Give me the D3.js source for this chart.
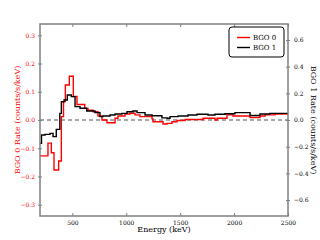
<!DOCTYPE html>
<html>
<head>
<meta charset="utf-8">
<script src="https://cdn.jsdelivr.net/npm/d3@7"></script>
<style>
  html, body { margin: 0; padding: 0; background: #fff; }
  svg { display: block; font-family: "DejaVu Serif", serif; }
</style>
</head>
<body>
<div id="chart"></div>
<script>
// BGO 0 (left axis) step histogram: bin edges in keV and rate per bin
const bgo0Edges = [200, 274, 305, 330, 373, 398, 418, 435, 472, 509, 543, 615, 645, 692, 738,
    775, 821, 896, 923, 988, 1035, 1081, 1127, 1239, 1248, 1341, 1378, 1424, 1471, 1545, 1712,
    1823, 1842, 1934, 1990, 2148, 2240, 2287, 2379, 2500];
const bgo0Rate = [-0.127, -0.082, -0.116, -0.177, -0.145, 0.012, 0.065, 0.124, 0.155, 0.083,
    0.055, 0.041, 0.035, 0.029, 0.014, 0.0, -0.010, 0.006, 0.014, 0.021, 0.024, 0.018, 0.012,
    0.004, -0.006, -0.014, -0.012, -0.006, -0.002, 0.002, 0.006, 0.0, 0.006, 0.018, 0.014,
    0.009, 0.014, 0.018, 0.021];

// BGO 1 (right axis)
const bgo1Edges = [200, 214, 246, 293, 321, 351, 384, 398, 423, 453, 490, 525, 571, 633, 710,
    756, 784, 849, 896, 960, 1007, 1062, 1100, 1174, 1239, 1331, 1378, 1406, 1480, 1573, 1656,
    1758, 1823, 1916, 2008, 2148, 2240, 2333, 2500];
const bgo1Rate = [-0.175, -0.112, -0.108, -0.1, -0.125, -0.07, 0.05, 0.137, 0.15, 0.187, 0.175,
    0.1, 0.088, 0.0675, 0.055, 0.025, 0.03, 0.0375, 0.045, 0.05, 0.062, 0.0675, 0.055, 0.0375,
    0.032, 0.016, 0.013, 0.025, 0.03, 0.0375, 0.043, 0.0375, 0.043, 0.047, 0.055, 0.034, 0.045,
    0.05];

const xTicks = [500, 1000, 1500, 2000, 2500];
const leftTicks = [-0.3, -0.2, -0.1, 0.0, 0.1, 0.2, 0.3];
const rightTicks = [-0.6, -0.4, -0.2, 0.0, 0.2, 0.4, 0.6];
const seriesNames = ["BGO 0", "BGO 1"];

const width = 320, height = 240;
const margin = { top: 24, right: 32, bottom: 24, left: 40 };
const frameColor = "#808080";

const svg = d3.select("#chart").append("svg")
    .attr("width", width)
    .attr("height", height);

const x = d3.scaleLinear().domain([200, 2500]).range([margin.left, width - margin.right]);
const yLeft = d3.scaleLinear().domain([-0.34, 0.34]).range([height - margin.bottom, margin.top]);
const yRight = d3.scaleLinear().domain([-0.72, 0.72]).range([height - margin.bottom, margin.top]);

const fmt = d => d3.format(".1f")(d).replace("-", "\u2212");

svg.append("clipPath").attr("id", "plotClip")
    .append("rect")
    .attr("x", margin.left).attr("y", margin.top)
    .attr("width", width - margin.left - margin.right)
    .attr("height", height - margin.top - margin.bottom);

const plot = svg.append("g").attr("clip-path", "url(#plotClip)");

// zero reference line
plot.append("line")
    .attr("x1", x(200)).attr("x2", x(2500))
    .attr("y1", yLeft(0)).attr("y2", yLeft(0))
    .attr("stroke", "#8c8c8c")
    .attr("stroke-width", 1.3)
    .attr("stroke-dasharray", "4,3");

function stepPoints(edges, vals) {
    const pts = vals.map((v, i) => [edges[i], v]);
    pts.push([edges[edges.length - 1], vals[vals.length - 1]]);
    return pts;
}

plot.append("path")
    .datum(stepPoints(bgo0Edges, bgo0Rate))
    .attr("fill", "none")
    .attr("stroke", "#ff0000")
    .attr("stroke-width", 1.4)
    .attr("d", d3.line().x(d => x(d[0])).y(d => yLeft(d[1])).curve(d3.curveStepAfter));

plot.append("path")
    .datum(stepPoints(bgo1Edges, bgo1Rate))
    .attr("fill", "none")
    .attr("stroke", "#000")
    .attr("stroke-width", 1.4)
    .attr("d", d3.line().x(d => x(d[0])).y(d => yRight(d[1])).curve(d3.curveStepAfter));

// axes
const bottomAxis = svg.append("g")
    .attr("transform", `translate(0,${height - margin.bottom})`)
    .call(d3.axisBottom(x).tickValues(xTicks).tickSize(3).tickPadding(2).tickFormat(d3.format("d")));
bottomAxis.selectAll(".tick line").attr("y1", -3).attr("y2", 0);

const topAxis = svg.append("g")
    .attr("transform", `translate(0,${margin.top})`)
    .call(d3.axisTop(x).tickValues(xTicks).tickSize(3).tickFormat(""));
topAxis.selectAll(".tick line").attr("y1", 3).attr("y2", 0);

const leftAxis = svg.append("g")
    .attr("transform", `translate(${margin.left},0)`)
    .call(d3.axisLeft(yLeft).tickValues(leftTicks).tickSize(2).tickPadding(3).tickFormat(fmt));
leftAxis.selectAll(".tick line").attr("x1", 2);
leftAxis.selectAll("text").attr("fill", "#ff0000");

const rightAxis = svg.append("g")
    .attr("transform", `translate(${width - margin.right},0)`)
    .call(d3.axisRight(yRight).tickValues(rightTicks).tickSize(2).tickPadding(4).tickFormat(fmt));
rightAxis.selectAll(".tick line").attr("x1", -2);
rightAxis.selectAll("text").attr("fill", "#000");

svg.selectAll(".domain").attr("stroke", "none");
svg.selectAll(".tick line").attr("stroke", frameColor).attr("stroke-width", 1);
svg.selectAll(".tick text").attr("font-family", "DejaVu Serif").attr("font-size", 6);

// frame
svg.append("rect")
    .attr("x", margin.left).attr("y", margin.top)
    .attr("width", width - margin.left - margin.right)
    .attr("height", height - margin.top - margin.bottom)
    .attr("fill", "none")
    .attr("stroke", frameColor)
    .attr("stroke-width", 1.5);

// axis labels
svg.append("text")
    .attr("x", (margin.left + width - margin.right) / 2)
    .attr("y", 232)
    .attr("text-anchor", "middle")
    .attr("font-size", 8)
    .attr("fill", "#000")
    .text("Energy (keV)");

svg.append("text")
    .attr("transform", `translate(17,${yLeft(0)}) rotate(-90)`)
    .attr("text-anchor", "middle")
    .attr("dy", "0.35em")
    .attr("font-size", 8)
    .attr("fill", "#ff0000")
    .text("BGO 0 Rate (counts/s/keV)");

svg.append("text")
    .attr("transform", `translate(314,${yLeft(0)}) rotate(90)`)
    .attr("text-anchor", "middle")
    .attr("dy", "0.35em")
    .attr("font-size", 8)
    .attr("fill", "#000")
    .text("BGO 1 Rate (counts/s/keV)");

// legend
const legend = svg.append("g").attr("transform", "translate(229,27)");
legend.append("rect")
    .attr("width", 55).attr("height", 30)
    .attr("rx", 3)
    .attr("fill", "#fff")
    .attr("stroke", "#000")
    .attr("stroke-width", 1);
const legendColors = ["#ff0000", "#000"];
seriesNames.forEach((name, i) => {
    const yy = 10.5 + i * 10;
    legend.append("line")
        .attr("x1", 8).attr("x2", 21)
        .attr("y1", yy).attr("y2", yy)
        .attr("stroke", legendColors[i])
        .attr("stroke-width", 1.4);
    legend.append("text")
        .attr("x", 24).attr("y", yy)
        .attr("dy", "0.35em")
        .attr("font-size", 7)
        .attr("fill", "#000")
        .text(name);
});
</script>
</body>
</html>
